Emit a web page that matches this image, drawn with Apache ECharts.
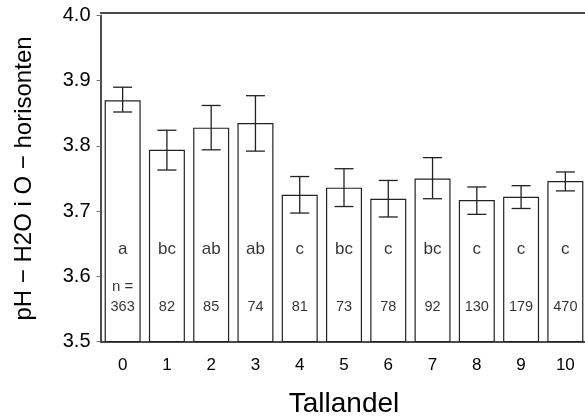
<!DOCTYPE html>
<html>
<head>
<meta charset="utf-8">
<script src="https://cdn.jsdelivr.net/npm/echarts@6/dist/echarts.min.js"></script>
<style>
  html, body { margin: 0; padding: 0; background: #fff; }
  #chart { width: 585px; height: 416px; }
</style>
</head>
<body>
<div id="chart"></div>
<script>
// Tallandel classes on the x axis
const categories = ['0', '1', '2', '3', '4', '5', '6', '7', '8', '9', '10'];
// Mean pH (H2O) in the O horizon for each class
const means = [3.870, 3.794, 3.828, 3.835, 3.725, 3.736, 3.719, 3.750, 3.717, 3.722, 3.746];
// Upper and lower ends of the error bars
const errHigh = [3.890, 3.824, 3.862, 3.877, 3.753, 3.765, 3.747, 3.782, 3.737, 3.739, 3.760];
const errLow = [3.852, 3.763, 3.794, 3.792, 3.697, 3.707, 3.691, 3.719, 3.695, 3.704, 3.731];
// Significance groups and sample sizes
const groups = ['a', 'bc', 'ab', 'ab', 'c', 'bc', 'c', 'bc', 'c', 'c', 'c'];
const counts = [363, 82, 85, 74, 81, 73, 78, 92, 130, 179, 470];
const nMarks = ['n =', '', '', '', '', '', '', '', '', '', ''];
// Vertical positions (in pH units) of the annotation rows
const groupRowY = 3.642;
const nRowY = 3.584;
const countRowY = 3.553;
const yTicks = { min: 3.5, max: 4.0, step: 0.1 };

const font = '"Liberation Sans", Arial, Helvetica, sans-serif';
const ink = '#000';
const chart = echarts.init(document.getElementById('chart'), null, { renderer: 'canvas' });

const textRow = (name, y, values, size) => ({
  name: name,
  type: 'scatter',
  symbolSize: 2,
  itemStyle: { color: 'rgba(0,0,0,0)' },
  silent: true,
  z: 5,
  data: values.map((v, i) => ({ value: [i, y], label: { formatter: String(v) } })),
  label: {
    show: true,
    position: 'inside',
    color: ink,
    textBorderWidth: 0,
    fontFamily: font,
    fontSize: size
  }
});

const option = {
  animation: false,
  backgroundColor: '#fff',
  grid: {
    left: 100.5, top: 15.5, width: 487, height: 326,
    containLabel: false,
    outerBoundsMode: 'none'
  },
  xAxis: [
    {
      type: 'category',
      data: categories,
      position: 'bottom',
      axisLine: { show: true, lineStyle: { color: '#111', width: 1.5 } },
      axisTick: { show: false },
      axisLabel: { color: ink, fontFamily: font, fontSize: 17, margin: 15 },
      name: 'Tallandel',
      nameLocation: 'middle',
      nameGap: 49,
      nameTextStyle: { color: ink, fontFamily: font, fontSize: 28 }
    },
    {
      type: 'category',
      data: categories,
      position: 'top',
      offset: 3,
      axisLine: { show: true, lineStyle: { color: '#111', width: 1.5 } },
      axisTick: { show: false },
      axisLabel: { show: false }
    }
  ],
  yAxis: {
    type: 'value',
    min: yTicks.min,
    max: yTicks.max,
    interval: yTicks.step,
    axisLine: { show: true, lineStyle: { color: '#111', width: 1.5 } },
    axisTick: { show: true, length: 4, lineStyle: { color: '#777' } },
    splitLine: { show: false },
    axisLabel: {
      color: ink, fontFamily: font, fontSize: 20, margin: 10,
      formatter: v => v.toFixed(1)
    },
    name: 'pH \u2212 H2O i O \u2212 horisonten',
    nameLocation: 'middle',
    nameGap: 64,
    nameRotate: 90,
    nameTextStyle: { color: ink, fontFamily: font, fontSize: 24 }
  },
  series: [
    {
      name: 'pH',
      type: 'bar',
      data: means,
      barWidth: 36,
      itemStyle: { color: '#fff', borderColor: '#222', borderWidth: 1.2 },
      z: 2
    },
    {
      name: 'Feilfelt',
      type: 'custom',
      z: 4,
      data: categories.map((c, i) => [i, errLow[i], errHigh[i]]),
      renderItem: function (params, api) {
        const lo = api.coord([api.value(0), api.value(1)]);
        const hi = api.coord([api.value(0), api.value(2)]);
        const half = 9.5;
        const style = { stroke: '#222', lineWidth: 1.3, fill: null };
        return {
          type: 'group',
          children: [
            { type: 'line', shape: { x1: hi[0], y1: hi[1], x2: lo[0], y2: lo[1] }, style: style },
            { type: 'line', shape: { x1: hi[0] - half, y1: hi[1], x2: hi[0] + half, y2: hi[1] }, style: style },
            { type: 'line', shape: { x1: lo[0] - half, y1: lo[1], x2: lo[0] + half, y2: lo[1] }, style: style }
          ]
        };
      }
    },
    textRow('Grupper', groupRowY, groups, 17),
    textRow('n', nRowY, nMarks, 15),
    textRow('Antall', countRowY, counts, 14.5)
  ]
};

chart.setOption(option);
</script>
</body>
</html>
